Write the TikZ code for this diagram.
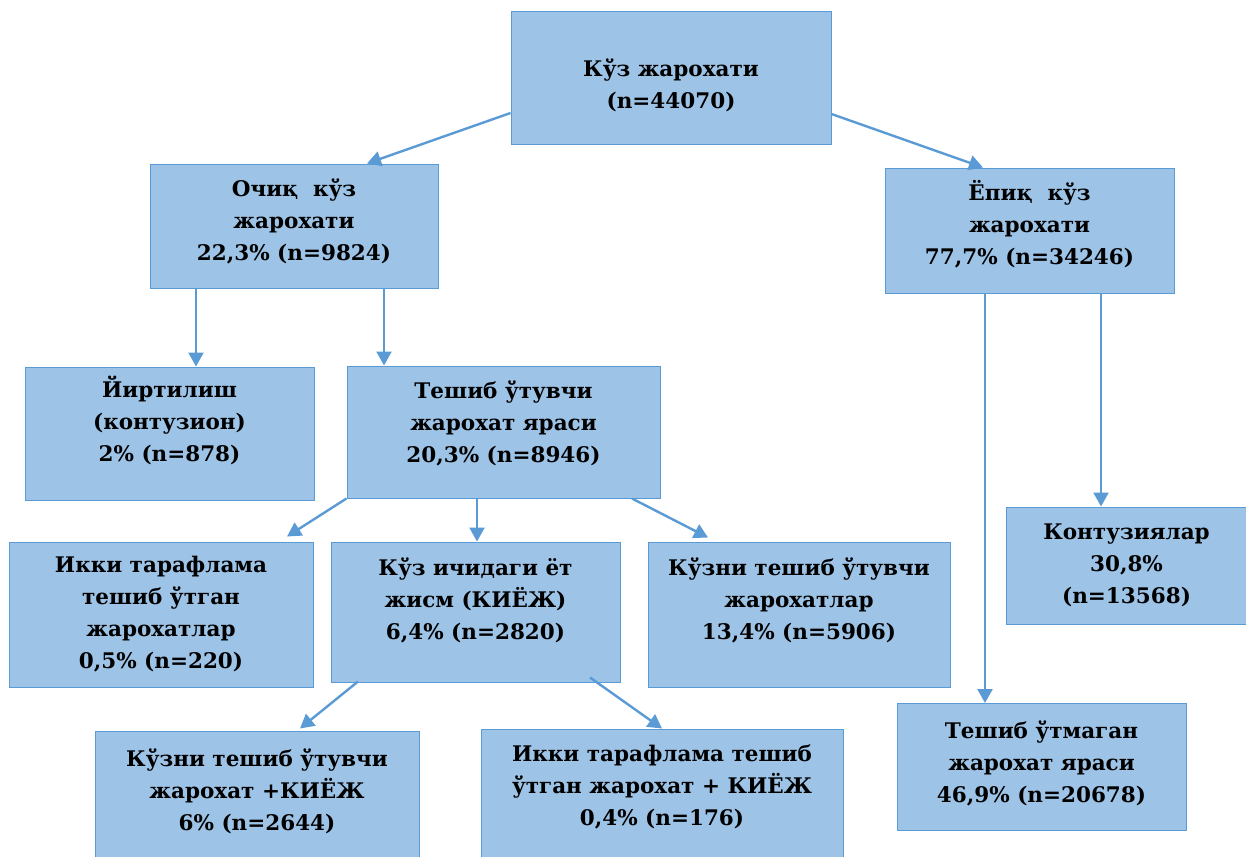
\documentclass[tikz,border=0pt]{standalone}
\usepackage{fontspec}
\setmainfont{DejaVu Serif}
\usetikzlibrary{arrows.meta}
\definecolor{boxfill}{HTML}{9DC3E6}
\definecolor{boxline}{HTML}{5B9BD5}
\definecolor{arrcol}{HTML}{5B9BD5}
\newcommand{\tx}[2]{\raisebox{#1}[\height][\depth]{\begin{tabular}{@{}c@{}}#2\end{tabular}}}
\tikzset{
  bx/.style={draw=boxline, line width=1pt, fill=boxfill, inner sep=0pt,
    font=\bfseries\fontsize{21.5}{32}\selectfont},
  arr/.style={draw=arrcol, line width=2.4pt, -{Triangle[width=15pt,length=14pt]}}
}
\begin{document}
\begin{tikzpicture}[x=1pt,y=-1pt]
\useasboundingbox (0,0) rectangle (1246,856);
% boxes
\node[bx, minimum width=320, minimum height=132] (top) at (671,78) {\tx{-8pt}{Кўз жарохати\\(n=44070)}};
\node[bx, minimum width=288, minimum height=124] (och) at (294,226) {\tx{4pt}{Очиқ\ \ кўз\\жарохати\\22,3\% (n=9824)}};
\node[bx, minimum width=289, minimum height=125] (yop) at (1029.5,230.5) {\tx{4pt}{Ёпиқ\ \ кўз\\жарохати\\77,7\% (n=34246)}};
\node[bx, minimum width=289, minimum height=133] (yirt) at (169.5,433.5) {\tx{10pt}{Йиртилиш\\(контузион)\\2\% (n=878)}};
\node[bx, minimum width=313, minimum height=132] (tesh) at (503.5,432) {\tx{8pt}{Тешиб ўтувчи\\жарохат яраси\\20,3\% (n=8946)}};
\node[bx, minimum width=304, minimum height=145] (ikki) at (161,614.5) {\tx{0pt}{Икки тарафлама\\тешиб ўтган\\жарохатлар\\0,5\% (n=220)}};
\node[bx, minimum width=289, minimum height=140] (kich) at (475.5,612) {\tx{11pt}{Кўз ичидаги ёт\\жисм (КИЁЖ)\\6,4\% (n=2820)}};
\node[bx, minimum width=302, minimum height=145] (kt) at (799,614.5) {\tx{13pt}{Кўзни тешиб ўтувчи\\жарохатлар\\13,4\% (n=5906)}};
\node[bx, minimum width=241, minimum height=117] (kont) at (1126.5,565.5) {\tx{0pt}{Контузиялар\\30,8\%\\(n=13568)}};
\node[bx, minimum width=289, minimum height=127] (tum) at (1041.5,767) {\tx{3pt}{Тешиб ўтмаган\\жарохат яраси\\46,9\% (n=20678)}};
\node[bx, minimum width=324, minimum height=129] (ktk) at (257,795.5) {\tx{3pt}{Кўзни тешиб ўтувчи\\жарохат +КИЁЖ\\6\% (n=2644)}};
\node[bx, minimum width=362, minimum height=131] (ikk) at (662,794.5) {\tx{7pt}{Икки тарафлама тешиб\\ўтган жарохат + КИЁЖ\\0,4\% (n=176)}};
% arrows
\draw[arr] ([yshift=-35pt]top.west) -- ([xshift=73pt]och.north);
\draw[arr] ([yshift=-36pt]top.east) -- ([xshift=-46.5pt]yop.north);
\draw[arr] ([xshift=-98pt]och.south) coordinate (a1) -- (a1 |- yirt.north);
\draw[arr] ([xshift=90pt]och.south) coordinate (a2) -- (a2 |- tesh.north);
\draw[arr] ([xshift=-44.5pt]yop.south) coordinate (a3) -- (a3 |- tum.north);
\draw[arr] ([xshift=71.5pt]yop.south) coordinate (a4) -- (a4 |- kont.north);
\draw[arr] (tesh.south west) -- ([xshift=126pt,yshift=5pt]ikki.north);
\draw[arr] ([xshift=-26.5pt]tesh.south) coordinate (a5) -- (a5 |- kich.north);
\draw[arr] ([xshift=128.5pt]tesh.south) -- ([xshift=-91pt,yshift=4pt]kt.north);
\draw[arr] ([xshift=-117.5pt,yshift=1pt]kich.south) -- ([xshift=43pt,yshift=2pt]ktk.north);
\draw[arr] ([xshift=114.5pt,yshift=5pt]kich.south) -- (ikk.north);
\end{tikzpicture}
\end{document}
